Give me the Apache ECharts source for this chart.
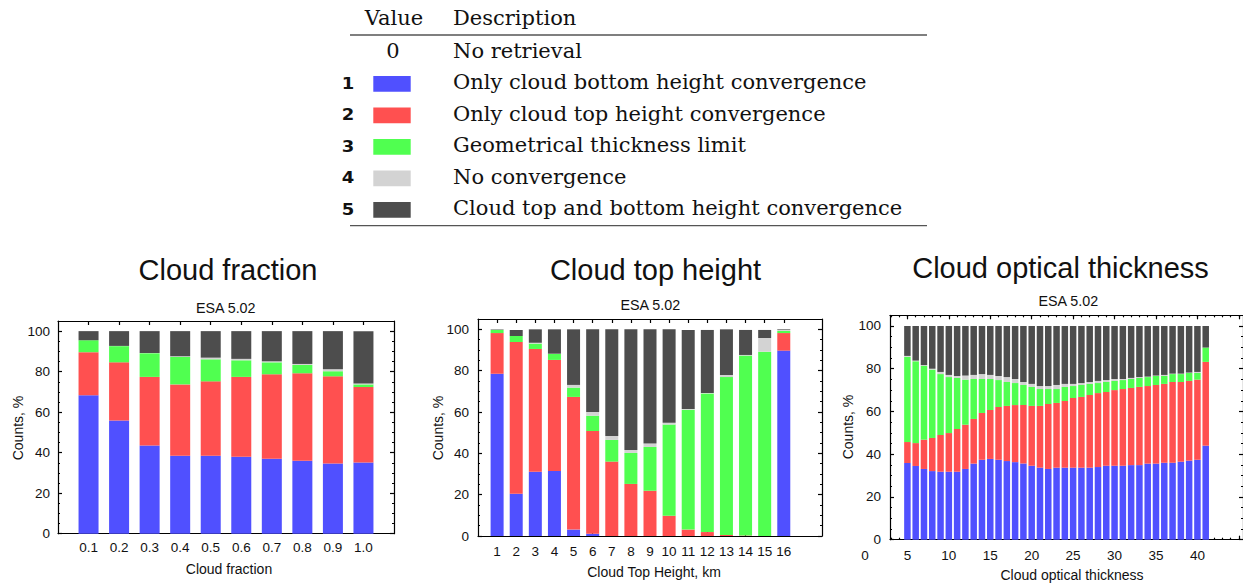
<!DOCTYPE html>
<html><head><meta charset="utf-8">
<script src="https://cdn.jsdelivr.net/npm/echarts@6/dist/echarts.min.js"></script>
<style>html,body{margin:0;padding:0;background:#fff}#c{width:1243px;height:585px}</style>
</head><body><div id="c"></div>
<script>
// ---------- legend table ----------
const legendValues = ['0', '1', '2', '3', '4', '5'];
const legendDescriptions = ['No retrieval', 'Only cloud bottom height convergence', 'Only cloud top height convergence',
  'Geometrical thickness limit', 'No convergence', 'Cloud top and bottom height convergence'];
const seriesNames = ['Only cloud bottom height convergence', 'Only cloud top height convergence',
  'Geometrical thickness limit', 'No convergence', 'Cloud top and bottom height convergence'];
const seriesColors = ['#5050ff', '#ff5050', '#50ff50', '#d3d3d3', '#4d4d4d'];

// ---------- chart 1: cloud fraction ----------
const cfCategories = [0.1, 0.2, 0.3, 0.4, 0.5, 0.6, 0.7, 0.8, 0.9, 1.0];
const cfBottomOnly = [68.4, 55.9, 43.6, 38.5, 38.5, 38.0, 37.0, 36.0, 34.7, 35.2];
const cfTopOnly    = [21.2, 28.7, 33.8, 35.2, 36.7, 39.4, 41.7, 43.2, 43.0, 37.2];
const cfGeomLimit  = [5.9, 8.0, 11.7, 13.6, 10.9, 8.2, 5.9, 4.1, 2.5, 1.3];
const cfNoConv     = [0.0, 0.1, 0.1, 0.3, 0.8, 0.7, 0.5, 0.5, 1.0, 0.5];
const cfBothConv   = [4.5, 7.3, 10.8, 12.4, 13.1, 13.7, 14.9, 16.2, 18.8, 25.8];

// ---------- chart 2: cloud top height ----------
const cthCategories = [1, 2, 3, 4, 5, 6, 7, 8, 9, 10, 11, 12, 13, 14, 15, 16];
const cthBottomOnly = [78.5, 20.5, 31.1, 31.5, 3.1, 1.1, 0, 0, 0, 0, 0, 0, 0, 0, 0, 89.7];
const cthTopOnly    = [19.7, 73.4, 59.4, 53.7, 64.2, 49.7, 36.0, 25.2, 21.9, 9.8, 3.1, 1.9, 0.5, 0.2, 0, 8.5];
const cthGeomLimit  = [1.5, 2.9, 2.6, 2.9, 4.5, 7.4, 10.5, 15.0, 21.2, 44.1, 58.0, 67.1, 76.4, 87.1, 89.2, 1.0];
const cthNoConv     = [0.1, 0.0, 0.4, 0.1, 1.3, 1.8, 1.9, 1.4, 1.6, 0.9, 0.4, 0.2, 1.0, 0.3, 6.6, 0.5];
const cthBothConv   = [0.2, 2.9, 6.5, 11.8, 26.9, 40.0, 51.6, 58.4, 55.3, 45.2, 38.2, 30.5, 22.1, 12.1, 3.9, 0.3];

// ---------- chart 3: cloud optical thickness ----------
const cotCategories = [5, 6, 7, 8, 9, 10, 11, 12, 13, 14, 15, 16, 17, 18, 19, 20, 21, 22, 23, 24, 25,
  26, 27, 28, 29, 30, 31, 32, 33, 34, 35, 36, 37, 38, 39, 40, 41];
const cotBottomOnly = [35.9, 34.5, 33.1, 32.1, 31.8, 31.8, 31.8, 33.1, 35.6, 37.4, 37.8, 37.4, 36.8, 36.3, 35.6, 34.6,
  33.7, 33.1, 33.7, 33.7, 33.7, 33.7, 33.7, 34.0, 34.6, 34.6, 34.6, 34.9, 34.9, 35.6, 35.6, 36.0, 36.0, 36.5, 37.0, 37.4, 44.0];
const cotTopOnly = [9.8, 10.7, 13.7, 15.5, 17.2, 18.1, 20.0, 20.7, 20.9, 21.9, 22.9, 24.7, 25.8, 26.7, 27.4, 28.0,
  28.9, 30.4, 30.3, 31.2, 32.6, 33.1, 34.0, 34.6, 34.5, 35.4, 35.9, 36.1, 36.6, 36.3, 36.8, 36.9, 37.8, 37.3, 37.3, 37.5, 39.2];
const cotGeomLimit = [39.9, 38.3, 34.6, 32.0, 28.5, 26.2, 23.9, 21.1, 18.7, 15.9, 14.5, 12.6, 11.2, 10.3, 9.4, 8.9,
  7.9, 7.0, 6.5, 6.6, 5.6, 5.6, 5.2, 4.7, 4.7, 4.3, 4.2, 4.2, 4.2, 4.2, 4.2, 3.7, 3.7, 3.7, 3.7, 3.1, 6.7];
const cotNoConv = [0.4, 0.3, 0.3, 0.4, 1.0, 1.0, 0.9, 1.9, 1.9, 2.3, 1.9, 1.9, 2.3, 1.9, 1.4, 1.4,
  1.4, 1.4, 1.9, 1.4, 1.0, 0.9, 0.9, 1.0, 0.9, 0.9, 0.5, 0.5, 0.4, 0.2, 0.2, 0.5, 0.2, 0.2, 0.2, 0.5, 0.0];
const cotBothConv = [14.0, 16.2, 18.3, 20.0, 21.5, 22.9, 23.4, 23.2, 22.9, 22.5, 22.9, 23.4, 23.9, 24.8, 26.2, 27.1,
  28.1, 28.1, 27.6, 27.1, 27.1, 26.7, 26.2, 25.7, 25.3, 24.8, 24.8, 24.3, 23.9, 23.7, 23.2, 22.9, 22.3, 22.3, 21.8, 21.5, 10.1];

// ---------- tick labels ----------
const yTickValues = [0, 20, 40, 60, 80, 100];
const yMinorValues = [0, 5, 10, 15, 20, 25, 30, 35, 40, 45, 50, 55, 60, 65, 70, 75, 80, 85, 90, 95, 100, 105];
const cfTickValues = cfCategories;
const cthTickValues = cthCategories;
const cotLabelValues = [5, 10, 15, 20, 25, 30, 35, 40];
const cotTickValues = [5, 10, 15, 20, 25, 30, 35, 40, 45];
const cotMinorValues = [3, 4, 5, 6, 7, 8, 9, 10, 11, 12, 13, 14, 15, 16, 17, 18, 19, 20, 21, 22, 23, 24, 25, 26, 27, 28,
  29, 30, 31, 32, 33, 34, 35, 36, 37, 38, 39, 40, 41, 42, 43, 44, 45];

const titles = ['Cloud fraction', 'Cloud top height', 'Cloud optical thickness'];
const subtitle = 'ESA 5.02';
const xNames = ['Cloud fraction', 'Cloud Top Height, km', 'Cloud optical thickness'];
const yName = 'Counts, %';

// ---------- build ----------
const SANS = '"Liberation Sans", Arial, sans-serif';
const SERIF = '"DejaVu Serif", serif';
const LINE = { color: '#000', width: 1.2 };

const panels = [
  { grid: { left: 58, top: 321, width: 336, height: 212.7 }, xmin: 0, xmax: 1.1, cats: cfCategories,
    stacks: [cfBottomOnly, cfTopOnly, cfGeomLimit, cfNoConv, cfBothConv], barWidth: 20,
    xLabels: cfTickValues, xTicks: cfTickValues, xMinor: null, fmt: v => v.toFixed(1), xMargin: 7, yMargin: 8 },
  { grid: { left: 478, top: 319, width: 344, height: 217 }, xmin: 0, xmax: 18, cats: cthCategories,
    stacks: [cthBottomOnly, cthTopOnly, cthGeomLimit, cthNoConv, cthBothConv], barWidth: 13,
    xLabels: cthTickValues, xTicks: cthTickValues, xMinor: null, fmt: v => String(v), xMargin: 8, yMargin: 9 },
  { grid: { left: 890, top: 315.3, width: 356, height: 224.4 }, xmin: 2.9, xmax: 45.5, cats: cotCategories,
    stacks: [cotBottomOnly, cotTopOnly, cotGeomLimit, cotNoConv, cotBothConv], barWidth: 6.5,
    xLabels: cotLabelValues, xTicks: cotTickValues, xMinor: cotMinorValues, fmt: v => String(v), xMargin: 9, yMargin: 9 }
];

const grids = [], xAxes = [], yAxes = [], series = [];
const labelStyle = { fontFamily: SANS, fontSize: 13.5, color: '#111' };

panels.forEach((p, gi) => {
  grids.push(Object.assign({ containLabel: false }, p.grid));
  const xBase = { gridIndex: gi, type: 'value', min: p.xmin, max: p.xmax, splitLine: { show: false } };
  const mainX = xAxes.length;
  xAxes.push(Object.assign({}, xBase, { position: 'bottom',
    axisLine: { show: true, onZero: false, lineStyle: LINE },
    axisTick: { show: true, inside: true, length: 4, customValues: p.xTicks, lineStyle: LINE },
    axisLabel: Object.assign({ show: true, customValues: p.xLabels, formatter: p.fmt, margin: p.xMargin }, labelStyle) }));
  xAxes.push(Object.assign({}, xBase, { position: 'top',
    axisLine: { show: true, onZero: false, lineStyle: LINE },
    axisTick: { show: true, inside: true, length: 4, customValues: p.xTicks, lineStyle: LINE },
    axisLabel: { show: false } }));
  if (p.xMinor) {
    ['bottom', 'top'].forEach(pos => xAxes.push(Object.assign({}, xBase, { position: pos,
      axisLine: { show: false, onZero: false },
      axisTick: { show: true, inside: true, length: 2, customValues: p.xMinor, lineStyle: LINE },
      axisLabel: { show: false } })));
  }
  const yBase = { gridIndex: gi, type: 'value', min: 0, max: 105, splitLine: { show: false } };
  const mainY = yAxes.length;
  yAxes.push(Object.assign({}, yBase, { position: 'left',
    axisLine: { show: true, onZero: false, lineStyle: LINE },
    axisTick: { show: true, inside: true, length: 4, customValues: yTickValues, lineStyle: LINE },
    axisLabel: Object.assign({ show: true, customValues: yTickValues, margin: p.yMargin }, labelStyle) }));
  yAxes.push(Object.assign({}, yBase, { position: 'right',
    axisLine: { show: true, onZero: false, lineStyle: LINE },
    axisTick: { show: true, inside: true, length: 4, customValues: yTickValues, lineStyle: LINE },
    axisLabel: { show: false } }));
  ['left', 'right'].forEach(pos => yAxes.push(Object.assign({}, yBase, { position: pos,
    axisLine: { show: false, onZero: false },
    axisTick: { show: true, inside: true, length: 2, customValues: yMinorValues, lineStyle: LINE },
    axisLabel: { show: false } })));

  // value first in each data item so that the stack is computed on the y (count) dimension
  p.stacks.forEach((vals, k) => {
    series.push({ type: 'bar', name: seriesNames[k], xAxisIndex: mainX, yAxisIndex: mainY, stack: 'g' + gi,
      barWidth: p.barWidth, itemStyle: { color: seriesColors[k] }, silent: true,
      encode: { x: 1, y: 0 },
      data: p.cats.map((c, i) => [vals[i], c]) });
  });
});

// ---------- text & table graphics ----------
const graphics = [];
function txt(s, x, y, font, size, align, extra, weight) {
  graphics.push(Object.assign({ type: 'text', x: x, y: y, silent: true,
    style: { text: s, fontFamily: font, fontSize: size, fontWeight: weight || 'normal', fill: '#111',
      textAlign: align || 'center', textVerticalAlign: 'middle' } }, extra || {}));
}
const titleX = [228, 655.5, 1060.5], titleY = [270, 270, 268];
const subX = [225.7, 650.3, 1068.3], subY = [308, 304.7, 301];
const xNameX = [229, 654, 1072], xNameY = [568.5, 572, 575];
const yNameX = [17.5, 437.5, 847.5], yNameY = [428, 428, 427];
for (let i = 0; i < 3; i++) {
  txt(titles[i], titleX[i], titleY[i], SANS, 29);
  txt(subtitle, subX[i], subY[i], SANS, 14.3);
  txt(xNames[i], xNameX[i], xNameY[i], SANS, 14);
  txt(yName, yNameX[i], yNameY[i], SANS, 14, 'center', { rotation: Math.PI / 2 });
}
// stray "0" tick label of the optical thickness axis (outside its frame)
txt('0', 865, 555, SANS, 13.5);

// table
txt('Value', 394, 18, SERIF, 21);
txt('Description', 453, 18, SERIF, 21, 'left');
graphics.push({ type: 'line', silent: true, shape: { x1: 350, y1: 35, x2: 927, y2: 35 }, style: { stroke: '#555', lineWidth: 1.3 } });
graphics.push({ type: 'line', silent: true, shape: { x1: 350, y1: 225.7, x2: 927, y2: 225.7 }, style: { stroke: '#555', lineWidth: 1.3 } });
const rowY = [50.5, 82, 113.5, 145, 176.5, 208];
legendValues.forEach((v, i) => {
  txt(legendDescriptions[i], 453, rowY[i], SERIF, 21, 'left');
  if (i === 0) {
    txt(v, 393, rowY[i], SERIF, 21);
  } else {
    graphics.push({ type: 'rect', silent: true, shape: { x: 373.3, y: rowY[i] - 6, width: 37.4, height: 15.7 },
      style: { fill: seriesColors[i - 1] } });
    txt(v, 348, rowY[i] + 2, '"DejaVu Sans", sans-serif', 15, 'center', { scaleX: 1.2, originX: 0, originY: 0 }, 'bold');
  }
});

const chart = echarts.init(document.getElementById('c'), null, { renderer: 'svg' });
chart.setOption({
  animation: false,
  backgroundColor: '#fff',
  grid: grids,
  xAxis: xAxes,
  yAxis: yAxes,
  series: series,
  graphic: { elements: graphics }
});
</script>
</body></html>
